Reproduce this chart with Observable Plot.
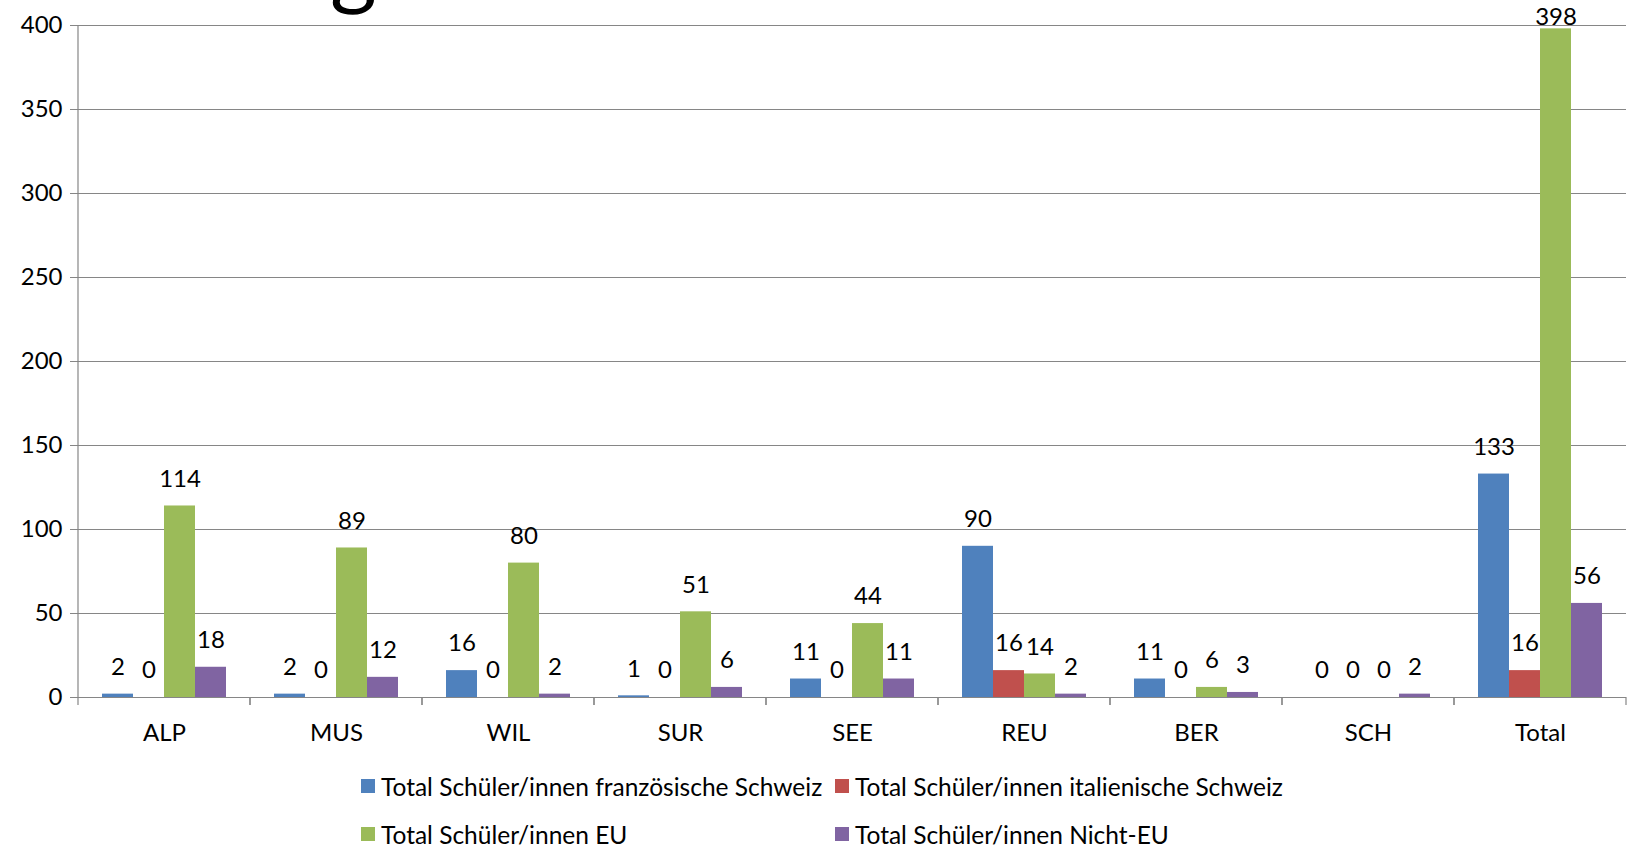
<!DOCTYPE html>
<html><head><meta charset="utf-8">
<script src="https://cdn.jsdelivr.net/npm/d3@7"></script>
<script src="https://cdn.jsdelivr.net/npm/@observablehq/plot@0.6"></script>
<style>
body{margin:0;background:#fff;font-family:Lato,sans-serif;}
#wrap{position:relative;width:1631px;height:847px;overflow:hidden;background:#fff;}
#title{position:absolute;left:330px;top:-82px;font-size:90px;line-height:1;color:#000;font-family:Lato,sans-serif;}
#legend{display:grid;grid-template-columns:474px 474px;margin-left:361px;padding-top:7px;}
.item{height:48px;display:flex;align-items:center;font-size:24.5px;color:#000;white-space:nowrap;}
.sw{width:14px;height:14px;margin-right:6px;flex:none;}
</style></head>
<body><div id="wrap"><div id="chart"></div><div id="legend"></div><div id="title">g</div></div>
<script>
const categories = ["ALP","MUS","WIL","SUR","SEE","REU","BER","SCH","Total"];
const seriesNames = [
  "Total Schüler/innen französische Schweiz",
  "Total Schüler/innen italienische Schweiz",
  "Total Schüler/innen EU",
  "Total Schüler/innen Nicht-EU"
];
const seriesColors = ["#4F81BD","#C0504D","#9BBB59","#8064A2"];
const frenchValues  = [2, 2, 16, 1, 11, 90, 11, 0, 133];
const italianValues = [0, 0, 0, 0, 0, 16, 0, 0, 16];
const euValues      = [114, 89, 80, 51, 44, 14, 6, 0, 398];
const nonEuValues   = [18, 12, 2, 6, 11, 2, 3, 2, 56];
const yTicks = [0, 50, 100, 150, 200, 250, 300, 350, 400];

const seriesValues = [frenchValues, italianValues, euValues, nonEuValues];
const rows = categories.flatMap((c, i) => seriesNames.map((s, j) => ({category: c, series: s, value: seriesValues[j][i]})));

const GRID = "#868686";
const FS = 24;

function clampTop(index, scales, values, dims, context, next) {
  const top = dims.marginTop + 19;
  const y = Float64Array.from(values.y, v => Math.max(v, top));
  return next(index, scales, {...values, y}, dims, context);
}

function facetEdges(scales, dims) {
  if (scales.x && typeof scales.x.range === "function") return scales.x.range();
  return [dims.marginLeft, dims.width - dims.marginRight];
}

const plot = Plot.plot({
  width: 1631, height: 755,
  marginTop: 25, marginBottom: 58, marginLeft: 76, marginRight: 3,
  style: {fontFamily: "Lato, sans-serif", fontSize: FS + "px", color: "#000", background: "#fff", overflow: "visible"},
  fx: {domain: categories, padding: 0, label: null},
  x: {domain: seriesNames, paddingInner: 0, paddingOuter: 0.77, axis: null},
  y: {domain: [0, 400], label: null},
  color: {domain: seriesNames, range: seriesColors},
  marks: [
    Plot.gridY(yTicks, {stroke: GRID, strokeOpacity: 1, strokeWidth: 1.2}),
    Plot.axisY(yTicks, {tickSize: 8, tickPadding: 8, stroke: GRID, strokeOpacity: 1, fill: "#000", label: null, fontSize: FS}),
    Plot.axisFx({anchor: "bottom", tickSize: 0, tickPadding: 26, label: null, fill: "#000", fontSize: FS}),
    Plot.ruleY([0], {render: (index, scales, values, dims) => {
      const g = d3.create("svg:g").attr("stroke", GRID).attr("stroke-width", 1.2);
      const [x0, x1] = facetEdges(scales, dims);
      const yb = dims.height - dims.marginBottom;
      for (const x of [x0, x1]) g.append("line").attr("x1", x).attr("x2", x).attr("y1", yb).attr("y2", yb + 8);
      return g.node();
    }}),
    Plot.ruleY(categories.slice(0, 1), {fx: d => d, y: () => 0, render: (index, scales, values, dims) => {
      const g = d3.create("svg:g").attr("stroke", GRID).attr("stroke-width", 1.2);
      if (index.length) {
        const [x0] = facetEdges(scales, dims);
        g.append("line").attr("x1", x0).attr("x2", x0).attr("y1", dims.marginTop).attr("y2", dims.height - dims.marginBottom);
      }
      return g.node();
    }}),
    Plot.barY(rows, {fx: "category", x: "series", y: "value", fill: "series"}),
    Plot.text(rows, {fx: "category", x: "series", y: "value", text: "value", dy: -27, lineAnchor: "middle", fill: "#000", fontSize: FS, render: clampTop})
  ]
});
document.getElementById("chart").appendChild(plot);

const legend = d3.select("#legend");
seriesNames.forEach((s, i) => {
  const item = legend.append("div").attr("class", "item");
  item.append("div").attr("class", "sw").style("background", seriesColors[i]);
  item.append("span").text(s);
});
</script>
</body></html>
